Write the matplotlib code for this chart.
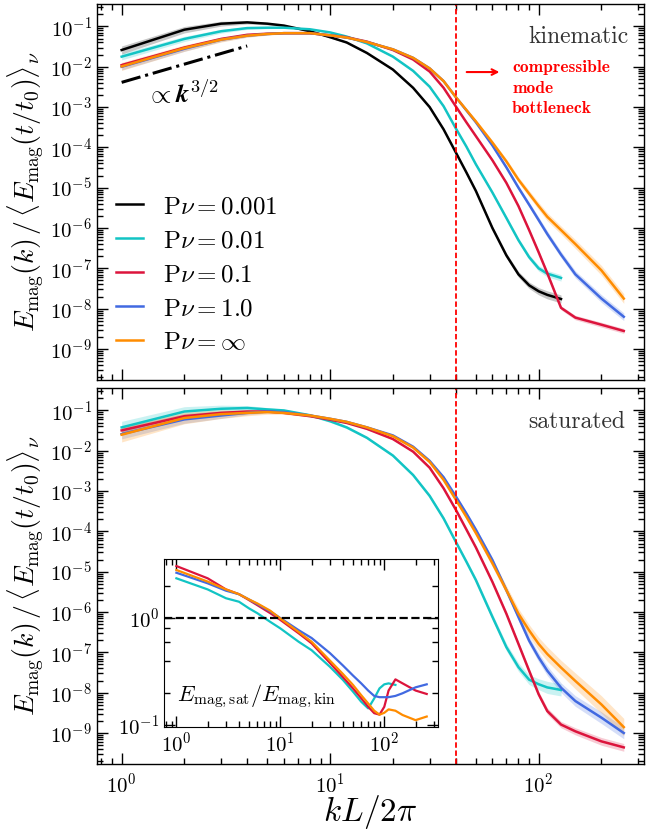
import numpy as np
import matplotlib
matplotlib.use("Agg")
import matplotlib.pyplot as plt
from matplotlib.ticker import LogLocator, NullFormatter
from matplotlib.mathtext import MathTextParser

plt.rcParams['font.family'] = 'cmr10'
plt.rcParams['mathtext.fontset'] = 'cm'
plt.rcParams['axes.formatter.use_mathtext'] = True
plt.rcParams['axes.unicode_minus'] = False

# ---------------- data ----------------
# wavenumbers kL/2pi of the spectra (runs P nu = 0.001 and 0.01 end at k = 128)
K = [1, 2, 3, 4, 5, 6, 8, 10, 12, 15, 20, 25, 30, 35, 40, 45, 50, 60, 70, 80, 90, 100,
     110, 128, 150, 200, 256]
# wavenumbers of the ratio curves (inset)
K_RATIO = [1, 2, 3, 4, 5, 6, 8, 10, 15, 20, 30, 40, 50, 60, 70, 80, 90, 100, 110, 128,
           150, 200, 256]

labels = [r"$\mathrm{P}\nu = 0.001$", r"$\mathrm{P}\nu = 0.01$", r"$\mathrm{P}\nu = 0.1$",
          r"$\mathrm{P}\nu = 1.0$", r"$\mathrm{P}\nu = \infty$"]
colors = ["black", "#12c4c4", "#dc143c", "#4169e1", "#ff8c00"]

# kinematic phase spectra
kin_p0001 = [2.6e-2, 8.3e-2, 1.17e-1, 1.26e-1, 1.17e-1, 1.05e-1, 7.6e-2, 5.4e-2, 4.0e-2,
             2.2e-2, 8.5e-3, 3.0e-3, 1.0e-3, 2.8e-4, 7.6e-5, 2.4e-5, 8.3e-6, 1.0e-6, 2.1e-7,
             7.1e-8, 3.8e-8, 2.7e-8, 2.2e-8, 1.74e-8]
kin_p001 = [1.78e-2, 4.9e-2, 7.6e-2, 9.1e-2, 9.3e-2, 9.3e-2, 8.5e-2, 7.1e-2, 5.6e-2,
            3.8e-2, 1.78e-2, 7.9e-3, 3.2e-3, 1.05e-3, 3.0e-4, 1.05e-4, 3.8e-5, 7.6e-6,
            1.78e-6, 5.0e-7, 1.9e-7, 1.0e-7, 7.4e-8, 5.8e-8]
kin_p01 = [1.1e-2, 3.0e-2, 4.9e-2, 6.2e-2, 6.6e-2, 6.8e-2, 6.8e-2, 6.0e-2, 5.4e-2, 4.2e-2,
           2.6e-2, 1.51e-2, 7.6e-3, 3.0e-3, 1.05e-3, 4.2e-4, 1.9e-4, 4.8e-5, 1.32e-5,
           3.5e-6, 8.9e-7, 2.5e-7, 7.6e-8, 1.05e-8, 6.0e-9, 4.0e-9, 2.8e-9]
kin_p1 = [1.0e-2, 2.8e-2, 4.7e-2, 5.9e-2, 6.5e-2, 6.8e-2, 6.8e-2, 6.0e-2, 5.3e-2, 4.1e-2,
          2.7e-2, 1.66e-2, 9.1e-3, 4.4e-3, 1.78e-3, 8.3e-4, 4.2e-4, 1.12e-4, 3.2e-5, 1.0e-5,
          3.8e-6, 1.58e-6, 7.1e-7, 2.2e-7, 7.1e-8, 1.78e-8, 6.3e-9]
kin_pinf = [1.02e-2, 2.9e-2, 4.7e-2, 5.9e-2, 6.5e-2, 6.8e-2, 6.8e-2, 6.0e-2, 5.3e-2,
            4.1e-2, 2.7e-2, 1.66e-2, 9.1e-3, 4.4e-3, 1.78e-3, 8.5e-4, 4.4e-4, 1.32e-4,
            4.5e-5, 1.58e-5, 7.1e-6, 3.5e-6, 1.9e-6, 8.9e-7, 4.0e-7, 8.9e-8, 1.78e-8]

# saturated phase spectra
sat_p001 = [3.8e-2, 9.4e-2, 1.1e-1, 1.15e-1, 1.06e-1, 1.0e-1, 7.6e-2, 5.4e-2, 3.8e-2,
            2.1e-2, 7.6e-3, 2.5e-3, 7.6e-4, 2.1e-4, 5.6e-5, 1.78e-5, 6.2e-6, 7.6e-7,
            1.35e-7, 4.3e-8, 2.1e-8, 1.62e-8, 1.35e-8, 1.17e-8]
sat_p01 = [3.2e-2, 7.2e-2, 8.7e-2, 9.4e-2, 9.4e-2, 8.7e-2, 7.2e-2, 5.9e-2, 4.9e-2, 3.5e-2,
           1.95e-2, 9.5e-3, 3.8e-3, 1.17e-3, 3.5e-4, 1.12e-4, 4.0e-5, 5.6e-6, 9.1e-7,
           1.62e-7, 3.5e-8, 9.1e-9, 3.5e-9, 1.62e-9, 1.1e-9, 6.2e-10, 4.4e-10]
sat_p1 = [2.6e-2, 6.0e-2, 7.5e-2, 8.7e-2, 9.4e-2, 9.1e-2, 7.5e-2, 6.2e-2, 5.2e-2, 3.8e-2,
          2.4e-2, 1.26e-2, 5.6e-3, 2.2e-3, 7.5e-4, 2.8e-4, 1.1e-4, 1.95e-5, 3.5e-6, 7.5e-7,
          1.95e-7, 7.5e-8, 3.5e-8, 1.33e-8, 6.2e-9, 2.4e-9, 1.0e-9]
sat_pinf = [2.5e-2, 6.5e-2, 8.1e-2, 8.7e-2, 9.1e-2, 8.7e-2, 7.5e-2, 6.2e-2, 5.2e-2, 3.8e-2,
            2.3e-2, 1.2e-2, 5.3e-3, 1.9e-3, 6.2e-4, 2.3e-4, 9.1e-5, 1.62e-5, 3.5e-6, 9.1e-7,
            3.5e-7, 1.62e-7, 9.1e-8, 4.2e-8, 1.95e-8, 5.1e-9, 1.4e-9]

# ratio E_mag,sat / E_mag,kin (inset)
ratio_p001 = [2.35, 1.85, 1.53, 1.42, 1.23, 1.11, 0.92, 0.80, 0.60, 0.50,
              0.35, 0.264, 0.205, 0.165, 0.143, 0.177, 0.22, 0.24, 0.245, 0.237]
ratio_p01 = [3.06, 2.35, 1.85, 1.67, 1.47, 1.32, 1.11, 0.96, 0.72, 0.58,
             0.38, 0.28, 0.22, 0.178, 0.148, 0.129, 0.125, 0.148, 0.21, 0.267,
             0.245, 0.21, 0.195]
ratio_p1 = [2.65, 2.11, 1.8, 1.67, 1.49, 1.35, 1.15, 1.0, 0.77, 0.65,
            0.47, 0.36, 0.29, 0.245, 0.21, 0.187, 0.182, 0.182, 0.182, 0.187,
            0.198, 0.225, 0.24]
ratio_pinf = [2.81, 2.19, 1.85, 1.67, 1.49, 1.37, 1.17, 0.99, 0.74, 0.60,
              0.40, 0.30, 0.237, 0.19, 0.159, 0.136, 0.125, 0.130, 0.14, 0.136,
              0.124, 0.111, 0.12]

# 1-sigma band half widths (dex): common shape along K, scaled per run
band_shape = [0.10, 0.08, 0.06, 0.04, 0.03, 0.02, 0.02, 0.02, 0.02, 0.02, 0.02, 0.02,
              0.03, 0.03, 0.03, 0.035, 0.04, 0.05, 0.06, 0.07, 0.08, 0.09, 0.10, 0.10,
              0.11, 0.12, 0.12]
band_scale_kin = [1.0, 0.8, 0.5, 0.8, 1.0]
band_scale_sat = [1.5, 0.8, 1.2, 1.8]

K_BOTTLENECK = 40
POWER_AMP = 4.1e-3
POWER_K = [1, 4]

# ---------------- figure ----------------
fig = plt.figure(figsize=(6.48, 8.33), dpi=100)
ax1 = fig.add_axes([0.1492, 0.5438, 0.8446, 0.4514])
ax2 = fig.add_axes([0.1492, 0.0828, 0.8446, 0.4514])


def draw(ax, data, cols, scales):
    for vals, c, s in zip(data, cols, scales):
        kk = np.array(K[:len(vals)], float)
        v = np.array(vals, float)
        w = np.array(band_shape[:len(vals)]) * s
        ax.fill_between(kk, v * 10 ** (-w), v * 10 ** w, color=c, alpha=0.22, lw=0)
    lines = []
    for vals, c in zip(data, cols):
        kk = np.array(K[:len(vals)], float)
        ln, = ax.plot(kk, vals, color=c, lw=1.8)
        lines.append(ln)
    return lines


kin = [kin_p0001, kin_p001, kin_p01, kin_p1, kin_pinf]
sat = [sat_p001, sat_p01, sat_p1, sat_pinf]
lines = draw(ax1, kin, colors, band_scale_kin)
draw(ax2, sat, colors[1:], band_scale_sat)

for ax in (ax1, ax2):
    ax.set_xscale('log')
    ax.set_yscale('log')
    ax.set_xlim(0.759, 320)
    ax.set_ylim(1.7e-10, 0.36)
    ax.axvline(K_BOTTLENECK, color='red', ls=(0, (3, 1.5)), lw=1.3)
    ax.yaxis.set_major_locator(LogLocator(base=10, numticks=20))
    ax.yaxis.set_minor_locator(LogLocator(base=10, subs=np.arange(2, 10), numticks=20))
    ax.yaxis.set_minor_formatter(NullFormatter())
    ax.tick_params(which='both', direction='in', top=True, right=True, labelsize=15, width=1)
    ax.tick_params(which='major', length=8)
    ax.tick_params(which='minor', length=4)
    ax.set_ylabel(r"$E_{\mathrm{mag}}(k)\,/\,\langle E_{\mathrm{mag}}(t/t_0)\rangle_{\nu}$",
                  fontsize=20, labelpad=3)
    for sp in ax.spines.values():
        sp.set_linewidth(1.0)

ax1.tick_params(labelbottom=False)
ax2.tick_params(axis='x', pad=6)
ax2.set_xlabel(r"$kL/2\pi$", fontsize=24, labelpad=-3)

# power law guide
pk = np.array(POWER_K, float)
ax1.plot(pk, POWER_AMP * pk ** 1.5, color='black', ls='-.', lw=2.2)
ktxt = r"$\propto \mathbf{k}^{\mathbf{3/2}}$"
try:
    MathTextParser('agg').parse(r"$\propto \boldsymbol{k}^{\mathbf{3/2}}$", dpi=100)
    ktxt = r"$\propto \boldsymbol{k}^{\mathbf{3/2}}$"
except Exception:
    pass
ax1.text(1.95, 2.2e-3, ktxt, fontsize=19, ha='center', va='center')

ax1.legend(lines, labels, loc='lower left', bbox_to_anchor=(0.035, 0.069), frameon=False,
           fontsize=18, handlelength=1.1, handletextpad=0.8, labelspacing=0.46,
           borderaxespad=0, borderpad=0)

ax1.text(0.971, 0.913, "kinematic", transform=ax1.transAxes, ha='right', va='center',
         fontsize=17, color='#333333')
ax2.text(0.965, 0.910, "saturated", transform=ax2.transAxes, ha='right', va='center',
         fontsize=17, color='#333333')

ax1.annotate("", xy=(0.741, 0.819), xytext=(0.671, 0.819), xycoords='axes fraction',
             arrowprops=dict(arrowstyle='->', color='red', lw=1.5))
ax1.text(0.759, 0.85, "compressible\nmode\nbottleneck", transform=ax1.transAxes,
         ha='left', va='top', color='red', fontsize=12.5, family='cmb10', linespacing=1.45)

# inset
axi = fig.add_axes([0.2531, 0.1276, 0.4233, 0.2010])
ratios = [ratio_p001, ratio_p01, ratio_p1, ratio_pinf]
for vals, c in zip(ratios, colors[1:]):
    axi.plot(K_RATIO[:len(vals)], vals, color=c, lw=1.6)
axi.axhline(1.0, color='black', ls='--', lw=1.6)
axi.set_xscale('log')
axi.set_yscale('log')
axi.set_xlim(0.76, 331)
axi.set_ylim(0.0964, 3.54)
axi.yaxis.set_minor_locator(LogLocator(base=10, subs=[2.0, 4.0, 6.0, 8.0], numticks=20))
axi.yaxis.set_minor_formatter(NullFormatter())
axi.tick_params(which='both', direction='in', top=True, right=True, labelsize=15, width=1)
axi.tick_params(which='major', length=8)
axi.tick_params(which='minor', length=4)
axi.text(0.046, 0.18, r"$E_{\mathrm{mag,sat}}/E_{\mathrm{mag,kin}}$", transform=axi.transAxes,
         ha='left', va='center', fontsize=16)

fig.savefig("out.png", dpi=100)
